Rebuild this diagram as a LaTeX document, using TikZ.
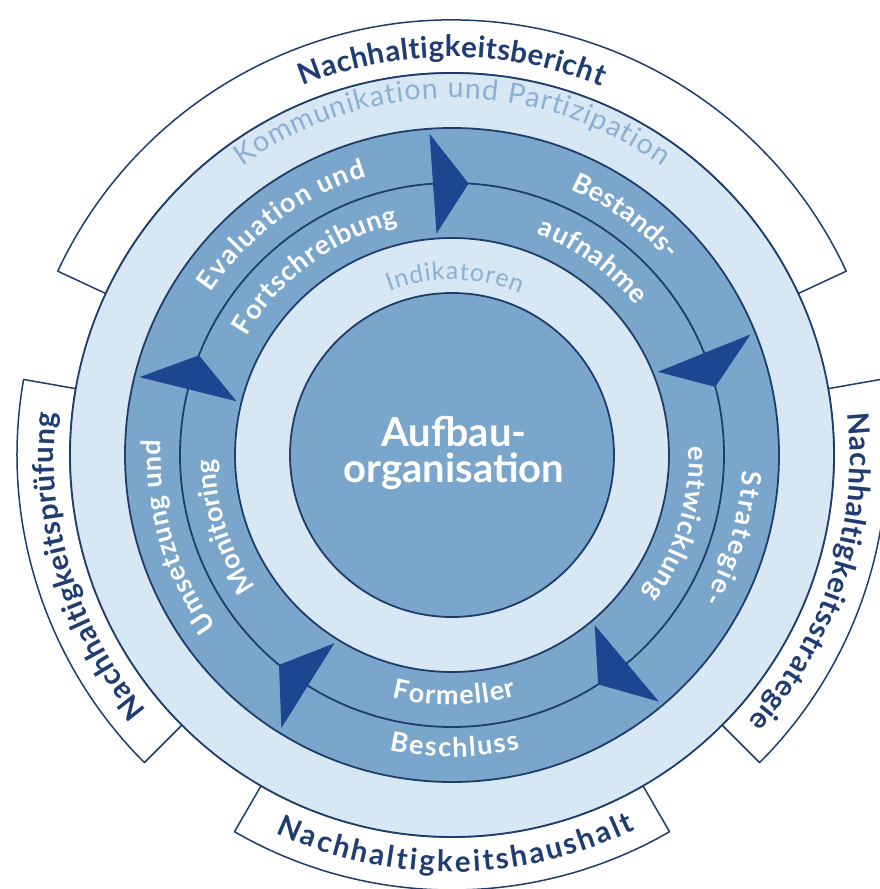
\documentclass[tikz,border=0pt]{standalone}
\usepackage{fontspec}
\setmainfont{Lato}
\usetikzlibrary{decorations.text}
\definecolor{navy}{HTML}{1F3D6B}
\definecolor{arrowblue}{HTML}{1D4690}
\definecolor{bandblue}{HTML}{7AA6CC}
\definecolor{lightblue}{HTML}{D7E7F4}
\definecolor{lighttext}{HTML}{8CB0D3}
\definecolor{labelnavy}{HTML}{1F3D73}
\newcommand\fOuter{\fontsize{29.5}{29.5}\selectfont\bfseries}
\newcommand\fLight{\fontsize{28.5}{28.5}\selectfont}
\newcommand\fInd{\fontsize{25}{25}\selectfont}
\newcommand\fBand{\fontsize{27}{27}\selectfont\bfseries}
% #1 colour, #2 font, #3 radius, #4 start angle, #5 end angle, #6 text
\newcommand\arctext[6]{%
  \path[decorate, decoration={text along path, text align={fit to path}, text color=#1, text={|#2|#6}}]
    (c) ++(#4:#3) arc[start angle=#4, end angle=#5, radius=#3];}
\tikzset{
  ringline/.style={draw=navy, line width=1.8pt},
  segbox/.style={draw=navy, line width=1.5pt, fill=white},
  arrowtri/.style={fill=arrowblue},
}
\begin{document}
\begin{tikzpicture}[x=1pt,y=1pt,line join=round]
\useasboundingbox (0,0) rectangle (879,889);
\coordinate (c) at (452,434);
\begin{scope}[shift={(c)}]
  % outer white segments
  \foreach \a/\b in {25/155, 170/225, 240/300, 315/370} {
    \path[segbox] (\a:382) -- (\a:435) arc[start angle=\a, end angle=\b, radius=435]
      -- (\b:382) arc[start angle=\b, end angle=\a, radius=382] -- cycle;
  }
  % rings
  \fill[lightblue] (0,0) circle[radius=382];
  \draw[ringline] (0,0) circle[radius=382];
  \fill[bandblue] (0,0) circle[radius=327];
  \draw[ringline] (0,0) circle[radius=327];
  \draw[ringline] (0,0) circle[radius=272];
  \fill[lightblue] (0,0) circle[radius=217];
  \draw[ringline] (0,0) circle[radius=217];
  \fill[bandblue] (0,0) circle[radius=162];
  \draw[ringline] (0,0) circle[radius=162];
  % arrows
  \foreach \t in {94,22,-50,-122,-194} {
    \fill[arrowtri] (\t:322) -- ({\t-7.5}:272) -- (\t:222) -- cycle;
  }
\end{scope}
% centre text
\node[anchor=base, text=white, font=\fontsize{40}{40}\selectfont\bfseries, inner sep=0pt] (aufbau) at (454,442) {Aufbau-};
\node[anchor=base, text=white, font=\fontsize{40}{40}\selectfont\bfseries, inner sep=0pt] (org) at (454,406) {organisation};
% outer labels
\arctext{labelnavy}{\fOuter}{398}{112}{68}{Nachhaltigkeitsbericht}
\arctext{labelnavy}{\fOuter}{398}{220}{174}{Nachhaltigkeitsprüfung}
\arctext{labelnavy}{\fOuter}{398}{6}{-42}{Nachhaltigkeitsstrategie}
\arctext{labelnavy}{\fOuter}{417}{245}{296}{Nachhaltigkeitshaushalt}
% light rings
\arctext{lighttext}{\fLight}{357}{126}{54}{Kommunikation und Partizipation}
\arctext{lighttext}{\fInd}{175}{111}{67}{Indikatoren}
% band texts
\arctext{white}{\fBand}{291}{146}{107}{Evaluation und}
\arctext{white}{\fBand}{237}{150}{103}{Fortschreibung}
\arctext{white}{\fBand}{291}{66}{42}{Bestands-}
\arctext{white}{\fBand}{237}{69}{39}{aufnahme}
\arctext{white}{\fBand}{291}{-3}{-30}{Strategie-}
\arctext{white}{\fBand}{237}{2}{-36}{entwicklung}
\arctext{white}{\fBand}{250}{256}{285}{Formeller}
\arctext{white}{\fBand}{302}{258}{283}{Beschluss}
\arctext{white}{\fBand}{291}{216}{177}{Umsetzung und}
\arctext{white}{\fBand}{237}{214}{181}{Monitoring}
\end{tikzpicture}
\end{document}
